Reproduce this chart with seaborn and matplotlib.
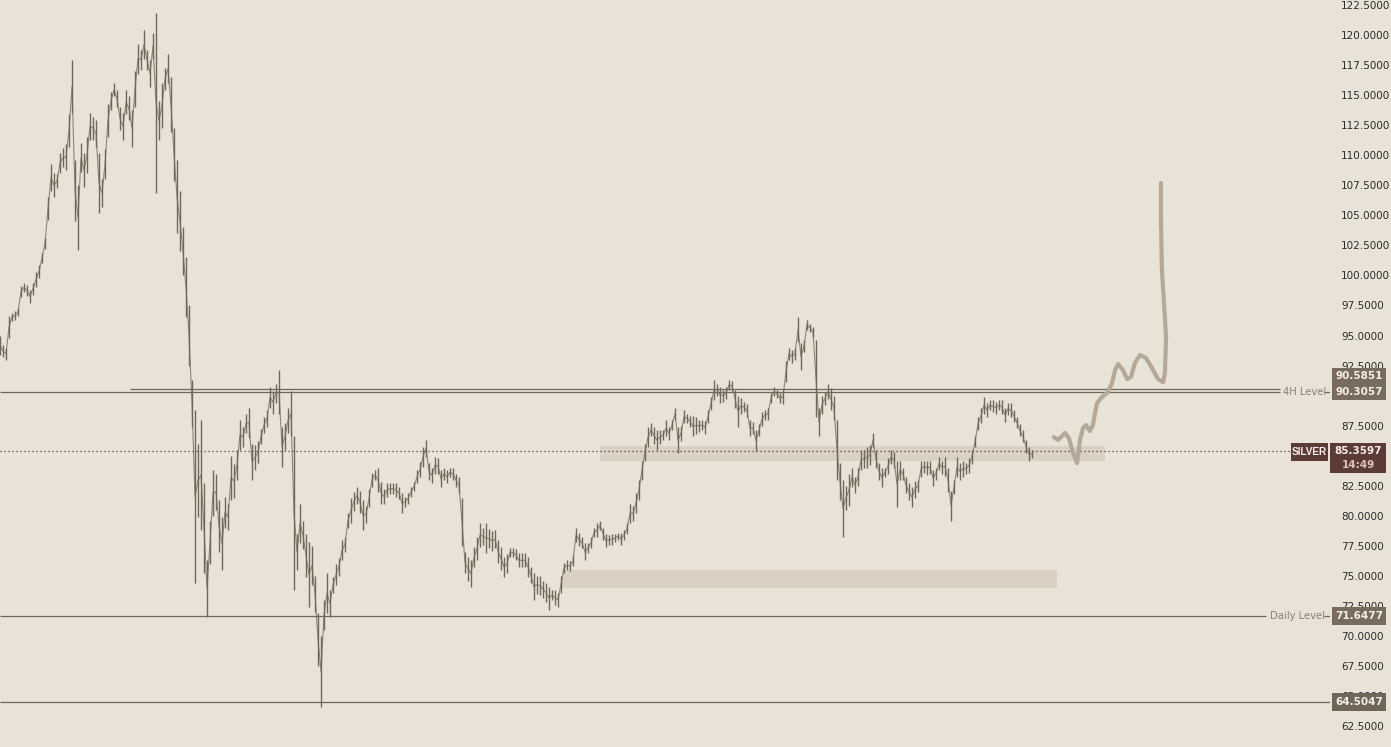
import numpy as np
import pandas as pd
import seaborn as sns
import matplotlib.pyplot as plt
from matplotlib.patches import Rectangle
from matplotlib.transforms import IdentityTransform

# Silver price bars, one every 3 px of chart width: (low, high)
bars = [
    (93.4, 95.0), (93.2, 94.2), (93.0, 94.0), (94.8, 96.6), (96.2, 96.9), (96.3, 97.0), (96.6, 97.3), (98.2, 99.1), (98.6, 99.4), (98.3, 99.2),
    (97.7, 98.8), (98.4, 99.4), (99.0, 100.3), (99.8, 100.9), (101.0, 101.9), (102.2, 103.1), (104.6, 106.5), (107.0, 109.3), (106.5, 108.5), (107.3, 108.4),
    (108.5, 110.2), (109.0, 110.6), (108.8, 110.9), (110.7, 113.4), (113.5, 117.9), (104.5, 109.6), (102.1, 107.5), (108.6, 111.0), (107.4, 110.2), (108.5, 111.5),
    (111.3, 113.5), (111.3, 113.2), (110.7, 112.9), (105.2, 110.2), (105.7, 108.0), (108.0, 110.5), (111.5, 114.3), (113.8, 115.3), (114.9, 116.0), (114.0, 115.4),
    (112.1, 114.0), (111.3, 113.5), (113.4, 115.4), (112.9, 114.9), (110.7, 113.8), (114.0, 117.0), (116.8, 119.3), (117.1, 118.8), (118.0, 120.4), (117.1, 118.8),
    (115.7, 117.9), (118.0, 120.2), (106.9, 121.8), (111.3, 114.5), (112.3, 116.0), (115.4, 117.3), (116.0, 118.4), (111.9, 116.5), (107.9, 112.3), (103.5, 109.6),
    (102.0, 107.0), (100.0, 104.0), (96.5, 101.5), (92.5, 97.5), (87.4, 91.3), (74.4, 88.8), (79.9, 86.0), (78.8, 88.0), (75.2, 82.7), (71.6, 76.3),
    (76.0, 79.6), (80.0, 83.8), (80.5, 83.5), (77.0, 81.3), (75.5, 79.9), (79.0, 81.6), (78.8, 81.0), (81.3, 85.0), (81.5, 84.3), (83.0, 85.5),
    (85.5, 88.0), (85.7, 87.4), (86.9, 88.5), (86.5, 89.0), (83.0, 86.0), (83.8, 85.9), (84.4, 86.2), (86.0, 87.2), (86.9, 88.2), (87.4, 88.8),
    (89.0, 90.7), (88.5, 90.4), (89.4, 91.0), (88.5, 92.1), (84.1, 87.4), (85.5, 87.7), (86.9, 89.0), (86.6, 90.4), (73.8, 86.6), (75.5, 78.5),
    (77.7, 81.0), (77.2, 79.6), (74.9, 78.5), (72.4, 77.8), (74.2, 77.5), (72.0, 75.0), (67.5, 71.9), (64.1, 70.0), (70.5, 73.0), (71.9, 75.2),
    (71.6, 73.8), (73.6, 74.9), (74.2, 76.0), (75.0, 76.5), (76.3, 78.0), (77.0, 78.2), (79.0, 80.2), (79.4, 81.5), (80.4, 82.0), (81.0, 82.4),
    (80.2, 82.1), (78.8, 81.3), (79.4, 80.8), (80.7, 82.2), (82.4, 83.6), (83.0, 83.8), (82.0, 84.0), (81.0, 82.8), (81.0, 82.2), (81.6, 82.7),
    (81.8, 82.7), (81.8, 82.7), (81.6, 82.7), (81.4, 82.4), (80.2, 81.9), (80.7, 81.6), (81.0, 81.9), (81.6, 82.4), (82.1, 82.8), (82.7, 83.8),
    (83.2, 84.5), (84.1, 85.7), (84.9, 86.3), (83.0, 84.4), (82.7, 84.0), (83.5, 84.9), (83.5, 84.8), (82.4, 83.8), (83.0, 84.0), (82.7, 83.8),
    (83.2, 84.0), (83.0, 84.0), (82.4, 83.5), (81.9, 83.2), (77.5, 81.5), (75.2, 77.0), (74.6, 76.6), (74.1, 76.3), (75.7, 77.4), (76.3, 78.2),
    (77.4, 79.4), (77.6, 79.0), (76.9, 79.4), (77.3, 78.9), (77.1, 78.7), (77.3, 78.8), (76.1, 78.0), (75.5, 77.4), (74.9, 76.6), (75.2, 76.8),
    (76.6, 77.3), (76.6, 77.3), (76.3, 77.2), (75.7, 76.9), (75.7, 76.9), (75.7, 76.9), (74.9, 76.6), (74.4, 75.7), (73.0, 75.2), (73.5, 75.0),
    (73.4, 75.0), (73.2, 74.6), (72.8, 74.4), (72.2, 74.1), (73.0, 73.8), (72.6, 73.8), (72.4, 73.6), (73.6, 75.0), (75.2, 76.1), (75.5, 76.3),
    (75.4, 76.2), (75.8, 76.7), (77.8, 79.0), (77.5, 78.6), (77.3, 78.2), (76.3, 77.7), (76.9, 77.7), (77.3, 78.2), (78.2, 79.0), (78.2, 79.4),
    (78.8, 79.6), (78.0, 79.0), (77.4, 78.5), (77.6, 78.4), (77.6, 78.5), (77.8, 78.5), (78.0, 78.6), (77.6, 78.6), (78.0, 78.8), (78.5, 79.4),
    (79.4, 81.0), (79.6, 80.8), (80.2, 81.9), (81.3, 83.0), (83.0, 84.6), (84.6, 86.0), (85.7, 87.4), (86.6, 87.7), (86.0, 87.4), (85.5, 87.1),
    (86.0, 87.1), (86.3, 87.1), (86.6, 88.0), (86.3, 87.4), (87.1, 88.0), (88.0, 89.0), (85.2, 87.4), (86.2, 87.5), (87.7, 88.8), (87.7, 88.5),
    (87.4, 88.3), (86.6, 88.3), (86.8, 88.2), (87.0, 88.0), (87.1, 88.0), (86.8, 87.9), (87.7, 88.8), (88.8, 89.9), (89.6, 91.3), (90.0, 91.0),
    (89.4, 90.7), (89.5, 90.5), (89.7, 90.7), (90.5, 91.3), (90.4, 91.2), (89.0, 90.5), (87.4, 90.0), (88.5, 89.8), (88.6, 89.5), (88.2, 89.3),
    (86.6, 88.0), (86.8, 87.8), (85.4, 87.1), (86.6, 87.6), (87.5, 88.6), (88.0, 88.8), (88.0, 89.0), (89.4, 90.2), (90.0, 90.7), (89.8, 90.5),
    (89.4, 90.2), (89.3, 90.5), (91.1, 92.9), (93.0, 94.0), (92.7, 93.8), (93.0, 94.0), (94.5, 96.5), (92.1, 94.4), (93.6, 94.6), (95.5, 96.3),
    (95.3, 96.0), (94.9, 95.7), (88.2, 94.6), (86.6, 89.0), (88.5, 90.0), (89.2, 90.3), (89.7, 91.0), (88.8, 90.6), (88.0, 90.0), (83.0, 88.0),
    (81.3, 84.4), (78.2, 83.0), (80.5, 82.5), (80.8, 83.5), (82.4, 84.0), (81.9, 83.2), (82.5, 84.0), (83.8, 85.5), (84.0, 85.5), (84.0, 85.7),
    (84.2, 85.9), (85.7, 86.9), (84.0, 85.5), (83.0, 84.4), (82.4, 84.0), (83.2, 84.0), (83.5, 84.8), (84.3, 85.5), (84.0, 85.3), (80.7, 84.6),
    (83.0, 84.6), (83.0, 84.0), (81.9, 83.2), (81.3, 82.7), (80.7, 82.4), (81.5, 82.9), (82.0, 83.0), (83.2, 84.6), (83.6, 84.6), (83.4, 84.6),
    (83.5, 84.6), (82.5, 83.8), (83.0, 84.0), (83.8, 84.9), (83.5, 84.6), (83.3, 84.9), (82.0, 84.0), (79.6, 82.1), (81.8, 83.0), (83.2, 84.9),
    (83.0, 84.4), (83.2, 84.6), (83.5, 84.4), (83.6, 84.8), (84.3, 85.5), (85.7, 86.6), (87.1, 88.2), (87.7, 89.0), (88.5, 89.9), (88.2, 89.4),
    (88.8, 89.6), (88.6, 89.6), (88.5, 89.5), (88.8, 89.6), (88.5, 89.6), (87.8, 89.0), (88.4, 89.4), (88.2, 89.4), (87.8, 88.8), (87.3, 88.2),
    (86.6, 87.6), (86.1, 87.1), (85.2, 86.3), (84.6, 85.7), (84.8, 85.5),
]

# horizontal levels
level_4h_top = 90.5851
level_4h = 90.3057
level_daily = 71.6477
level_low = 64.5047
last_price = 85.3597
countdown = "14:49"

# shaded zones (bar index start/end, price low/high)
zone_start = [200, 187.3]
zone_end = [368.3, 352.3]
zone_lo = [84.56, 73.99]
zone_hi = [85.81, 75.49]

# hand-drawn projection path (bar index, price)
sketch_x = [351.3, 352.7, 355.0, 356.3, 357.7, 359.0, 359.3, 360.0, 361.0, 362.0, 363.3, 364.3,
            365.0, 365.7, 367.3, 369.3, 370.7, 371.7, 372.7, 374.3, 375.7, 377.0, 378.3, 380.0,
            382.0, 384.0, 386.0, 387.7, 388.3, 388.7, 388.0, 387.3, 387.0, 387.0]
sketch_y = [86.55, 86.31, 86.89, 86.47, 85.22, 84.39, 84.89, 86.31, 87.30, 87.55, 87.05, 87.55,
            88.55, 89.38, 89.88, 90.30, 91.05, 92.13, 92.63, 92.13, 91.38, 91.55, 92.71, 93.38,
            93.13, 92.30, 91.38, 91.13, 91.88, 94.88, 97.71, 100.45, 104.61, 107.69]

# right-axis ticks that stay visible (90 and 85 sit under price tags)
tick_vals = [v for v in np.arange(62.5, 122.6, 2.5) if v not in (85.0, 90.0)]

bg = '#e9e2d6'
line_col = '#6e665b'
bar_col = '#71685c'

W, H = 1391, 747
fig = plt.figure(figsize=(W / 100, H / 100), dpi=100, facecolor=bg)
ax = fig.add_axes([0, 0, 1330 / W, 1])
ax.set_facecolor(bg)
ax.set_xlim(0, 1330 / 3)
ax.set_ylim(60.76, 122.92)
for s in ax.spines.values():
    s.set_visible(False)

df = pd.DataFrame(bars, columns=['low', 'high'])
df['bar'] = np.arange(len(df))
df['mid'] = (df['low'] + df['high']) / 2

# zones
for x0, x1, lo, hi in zip(zone_start, zone_end, zone_lo, zone_hi):
    ax.fill_between([x0, x1], lo, hi, color='#dad0c3', lw=0, zorder=1)

# price bars
ax.vlines(df['bar'], df['low'], df['high'], color=bar_col, lw=1.0, zorder=3)
sns.lineplot(data=df, x='bar', y='mid', color='#8f8576', lw=0.8, ax=ax, zorder=2)

# levels
ax.hlines(level_4h_top, 130 / 3, 1280 / 3, color=line_col, lw=0.9, zorder=2)
ax.hlines(level_4h, 0, 1280 / 3, color=line_col, lw=0.9, zorder=2)
ax.hlines(level_4h, 1324 / 3, 1330 / 3, color=line_col, lw=0.9, zorder=2)
ax.hlines(level_daily, 0, 1266 / 3, color=line_col, lw=0.9, zorder=2)
ax.hlines(level_daily, 1324 / 3, 1330 / 3, color=line_col, lw=0.9, zorder=2)
ax.hlines(level_low, 0, 1330 / 3, color=line_col, lw=0.9, zorder=2)
ax.hlines(last_price, 0, 1290 / 3, color='#4c4238', lw=0.9, linestyles=(0, (1, 2.2)), zorder=2)

ax.text(1283 / 3, level_4h, '4H Level', color='#8a8073', fontsize=7.2, va='center', ha='left')
ax.text(1270 / 3, level_daily, 'Daily Level', color='#8a8073', fontsize=7.2, va='center', ha='left')

# projection sketch
sns.lineplot(x=sketch_x, y=sketch_y, sort=False, estimator=None, color='#b4a999', lw=3.0,
             ax=ax, zorder=4, solid_capstyle='round', solid_joinstyle='round')

# right price axis
ax.yaxis.tick_right()
ax.set_yticks(tick_vals)
ax.set_yticklabels([f'{v:.4f}' for v in tick_vals])
ax.tick_params(axis='y', length=0, pad=8, labelsize=7.5, labelcolor='#2b2b2b')
ax.set_xticks([])
ax.set_xlabel('')
ax.set_ylabel('')

# price tags (drawn in pixel space next to the axis)
ident = IdentityTransform()


def ypix(v):
    return ax.transData.transform((0, v))[1]


def tag(x0, x1, ytop, h, face, lines, size=7.5, family='DejaVu Sans'):
    fig.add_artist(Rectangle((x0, ytop - h), x1 - x0, h, transform=ident,
                             facecolor=face, edgecolor='none', zorder=5))
    for txt, dy, col in lines:
        fig.text((x0 + x1) / 2 / W, (ytop - dy) / H, txt, color=col, fontsize=size,
                 fontweight='bold', ha='center', va='center', zorder=6, family=family)


tag_col = '#786c5f'
y4 = ypix(level_4h)
tag(1332, 1386, y4 + 8 + 16, 16, tag_col, [(f'{level_4h_top:.4f}', 8, '#f4efe7')])
tag(1332, 1386, y4 + 8, 16, tag_col, [(f'{level_4h:.4f}', 8, '#f4efe7')])
yd = ypix(level_daily)
tag(1332, 1386, yd + 9, 18, tag_col, [(f'{level_daily:.4f}', 9, '#f4efe7')])
yl = ypix(level_low)
tag(1332, 1386, yl + 9, 18, '#6f6559', [(f'{level_low:.4f}', 9, '#f4efe7')])
yp = ypix(last_price)
tag(1291, 1328, yp + 8, 18, '#5c3b36', [('SILVER', 9, '#f4ece8')], size=7.2,
    family=['Liberation Sans Narrow', 'Liberation Sans', 'DejaVu Sans'])
tag(1330, 1386, yp + 8, 30, '#5c3b36', [(f'{last_price:.4f}', 8, '#f4ece8'), (countdown, 22, '#d8c4bd')])

fig.savefig('out.png', dpi=100, facecolor=bg)
